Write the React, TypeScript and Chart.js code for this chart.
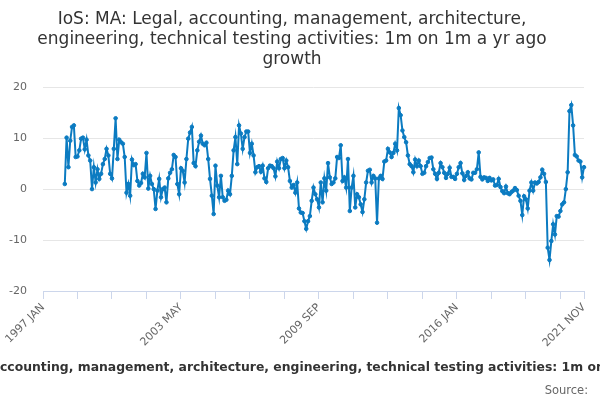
import { useEffect, useRef } from "react";
import Chart from "chart.js/auto";

const seriesName =
  "IoS: MA: Legal, accounting, management, architecture, engineering, technical testing activities: 1m on 1m a yr ago growth";

const titleLines = [
  "IoS: MA: Legal, accounting, management, architecture,",
  "engineering, technical testing activities: 1m on 1m a yr ago",
  "growth",
];

const monthNames = ["JAN", "FEB", "MAR", "APR", "MAY", "JUN", "JUL", "AUG", "SEP", "OCT", "NOV", "DEC"];

// 1997 JAN .. 2021 NOV
const months: string[] = [];
for (let y = 1997; y <= 2021; y++) {
  for (let m = 0; m < 12; m++) {
    if (y === 2021 && m > 10) break;
    months.push(`${y} ${monthNames[m]}`);
  }
}

// no growth figure for the first year
const growth1997 = [null, null, null, null, null, null, null, null, null, null, null, null];

// 1998 JAN .. 2002 OCT
const growth1998 = [
  1.0, 10.1, 4.3, 9.5, 12.2, 12.5, 6.3, 6.4, 7.6, 9.9, 10.1, 7.8, 9.7, 6.6, 5.6, 0, 4.3, 1.3, 3.9, 2.0,
  3.0, 4.9, 5.9, 7.9, 6.6, 3.0, 2.1, 7.9, 13.9, 5.9, 9.7, 9.2, 8.9, 6.3, -0.7, 1.0, -1.3, 5.8, 4.7, 4.9,
  1.6, 0.7, 1.2, 3.0, 2.3, 7.1, 0.1, 2.6, 1.0, 0, -3.9, -0.3, 2.0, -1.6, 0, 0.3, -2.6, 2.1,
];

// 2002 NOV .. 2008 OCT
const growth2002 = [
  3.2, 3.9, 6.7, 6.3, 1.0, -1.0, 4.1, 3.6, 1.3, 5.9, 9.9, 11.1, 12.2, 5.1, 4.5, 7.6, 9.3, 10.5, 8.9, 8.6,
  9.1, 5.9, 2.0, -1.3, -4.9, 4.6, 0.7, -1.6, 2.6, -1.6, -2.3, -2.1, -0.3, -1.0, 2.6, 7.6, 10.2, 4.9, 12.5, 10.9,
  7.9, 10.2, 11.3, 11.3, 7.1, 8.9, 6.6, 3.3, 4.3, 4.5, 3.4, 4.6, 2.1, 1.4, 4.1, 4.6, 4.5, 4.1, 2.5, 5.4,
  4.1, 5.9, 6.1, 4.1, 5.6, 4.3, 1.6, 0.3, 0.8, -0.7, 1.3, -3.8,
];

// 2008 NOV .. 2014 OCT
const growth2008 = [
  -4.6, -4.7, -6.3, -7.8, -6.3, -5.3, -2.3, 0.3, -1.0, -2.0, -3.6, 1.3, -2.6, 2.1, -0.3, 5.1, 2.3, 1.0, 1.3, 2.1,
  6.3, 6.1, 8.6, 1.6, 2.3, 0.3, 5.9, -4.3, 0.3, 2.6, -3.6, -1.0, -1.6, -3.0, -4.5, -2.0, 1.3, 3.6, 3.8, 1.3,
  2.6, 2.1, -6.6, 2.1, 2.6, 2.0, 5.4, 5.6, 7.9, 7.2, 6.3, 7.1, 8.9, 7.6, 15.9, 14.5, 11.5, 10.2, 9.2, 6.6,
  4.9, 4.5, 3.3, 5.8, 4.5, 5.6, 4.5, 3.0, 3.2, 4.5, 5.3, 6.1,
];

// 2014 NOV .. 2021 NOV
const growth2014 = [
  6.2, 3.9, 3.0, 2.0, 3.2, 5.1, 4.3, 3.2, 2.2, 3.0, 4.2, 2.4, 2.4, 2.0, 3.0, 4.3, 5.1, 3.1, 1.8, 2.6,
  3.3, 2.1, 1.9, 3.2, 3.2, 3.9, 7.2, 2.4, 1.9, 2.3, 2.2, 1.6, 2.2, 1.7, 1.9, 0.7, 0.8, 2.0, 0.4, -0.4,
  -0.8, 0.5, -0.8, -1.0, -0.6, -0.3, 0.2, -0.2, -1.3, -2.3, -5.1, -1.4, -2.0, -3.8, -0.3, 1.3, -0.3, 1.3, 1.1, 1.4,
  2.3, 3.8, 3.0, 1.4, -11.5, -13.9, -10.2, -6.9, -8.9, -5.3, -5.4, -4.3, -3.0, -2.6, 0.0, 3.3, 15.3, 16.5, 12.5, 6.7,
  6.4, 5.6, 5.4, 2.3, 4.3,
];

const growth = [...growth1997, ...growth1998, ...growth2002, ...growth2008, ...growth2014];

const TICK_EVERY = 19;
const LABEL_EVERY = 76;
const lastIndex = months.length - 1;

// legend line (clipped at both edges, as in the original) and source note
const footerPlugin = {
  id: "footer",
  afterDraw(chart: any) {
    const { ctx } = chart;
    ctx.save();
    ctx.font = "bold 12.4px 'DejaVu Sans'";
    ctx.fillStyle = "#333333";
    ctx.textBaseline = "middle";
    ctx.textAlign = "left";
    const cut = ctx.measureText("IoS: MA: Legal, a").width;
    ctx.fillText(seriesName, -cut, 368);
    ctx.font = "11.5px 'DejaVu Sans'";
    ctx.fillStyle = "#666666";
    ctx.textAlign = "right";
    ctx.fillText("Source:", 588, 391);
    ctx.restore();
  },
};

const App = () => {
  const chartRef = useRef<HTMLCanvasElement>(null);

  useEffect(() => {
    document.body.style.margin = "0";
    if (!chartRef.current) return;

    Chart.defaults.font.family = "'DejaVu Sans'";

    const chart = new Chart(chartRef.current, {
      type: "line",
      data: {
        labels: months,
        datasets: [
          {
            label: seriesName,
            data: growth,
            borderColor: "#0b7bc1",
            backgroundColor: "#0b7bc1",
            borderWidth: 2,
            pointRadius: 1.8,
            pointBorderWidth: 1,
            pointHoverRadius: 3,
            tension: 0,
          },
        ],
      },
      options: {
        responsive: true,
        maintainAspectRatio: false,
        animation: false,
        layout: {
          padding: { left: 0, right: 16, top: 0, bottom: 50 },
        },
        plugins: {
          legend: { display: false },
          tooltip: { enabled: false },
          title: {
            display: true,
            text: titleLines,
            color: "#333333",
            font: { size: 17, weight: "normal", lineHeight: 1.2 },
            padding: { top: 9, bottom: 17 },
          },
        },
        scales: {
          x: {
            type: "category",
            afterBuildTicks: (scale: any) => {
              scale.ticks = scale.ticks.filter(
                (t: any) => t.value % TICK_EVERY === 0 || t.value === lastIndex
              );
            },
            afterFit: (scale: any) => {
              scale.height = 59;
            },
            grid: {
              display: true,
              drawOnChartArea: false,
              drawTicks: true,
              tickLength: 8,
              color: "#ccd6eb",
            },
            border: { display: true, color: "#ccd6eb" },
            ticks: {
              autoSkip: false,
              maxRotation: 45,
              minRotation: 45,
              padding: 2,
              color: "#666666",
              font: { size: 11 },
              callback: function (value: any) {
                const v = Number(value);
                return v % LABEL_EVERY === 0 || v === lastIndex ? months[v] : "";
              },
            },
          },
          y: {
            min: -20,
            max: 20,
            afterFit: (scale: any) => {
              scale.width = 43;
            },
            grid: { color: "#e6e6e6", drawTicks: false },
            border: { display: false },
            ticks: {
              stepSize: 10,
              padding: 16,
              color: "#666666",
              font: { size: 11 },
            },
          },
        },
      },
      plugins: [footerPlugin],
    });

    return () => {
      chart.destroy();
    };
  }, []);

  return (
    <div style={{ width: "600px", height: "400px", position: "relative" }}>
      <canvas ref={chartRef} />
    </div>
  );
};

export default App;
